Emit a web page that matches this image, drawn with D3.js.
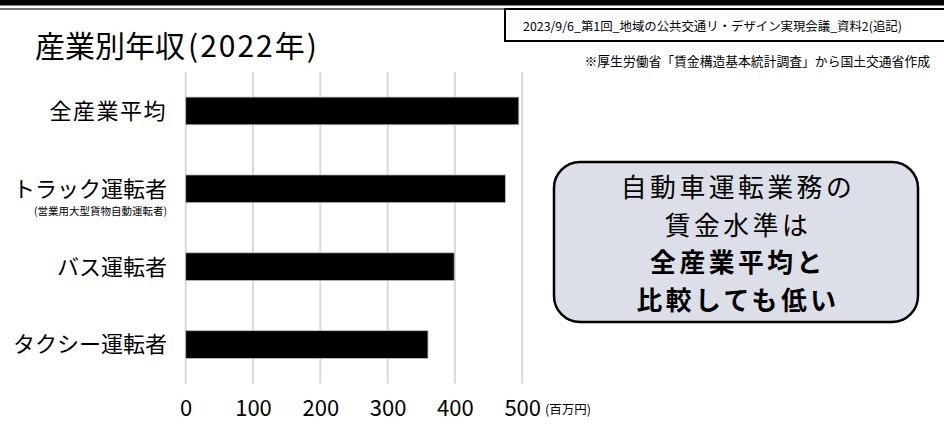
<!DOCTYPE html>
<html>
<head>
<meta charset="utf-8">
<script src="https://cdn.jsdelivr.net/npm/d3@7"></script>
<style>
  body { margin: 0; background: #fff; }
  svg { display: block; font-family: "Noto Sans CJK JP", "Noto Sans", sans-serif; }
</style>
</head>
<body>
<div id="chart"></div>
<script>
(function(){
  // data
  const categories = ["全産業平均", "トラック運転者", "バス運転者", "タクシー運転者"];
  const subLabels = ["", "(営業用大型貨物自動運転者)", "", ""];
  const incomes = [495, 475, 399, 360];
  const xTicks = [0, 100, 200, 300, 400, 500];
  const calloutLines = ["自動車運転業務の", "賃金水準は", "全産業平均と", "比較しても低い"];
  const calloutBold = [false, false, true, true];

  const width = 944;
  const height = 432;

  const svg = d3.select("#chart")
    .append("svg")
    .attr("width", width)
    .attr("height", height);

  // top border lines
  svg.append("rect")
    .attr("x", 0).attr("y", 0)
    .attr("width", width).attr("height", 5.5)
    .attr("fill", "#000");
  svg.append("line")
    .attr("x1", 0).attr("x2", width)
    .attr("y1", 9).attr("y2", 9)
    .attr("stroke", "#777").attr("stroke-width", 2);

  // title
  const title = svg.append("text")
    .attr("x", 35).attr("y", 57)
    .attr("font-size", 30)
    .attr("fill", "#000");
  title.append("tspan").text("産業別年収");
  title.append("tspan").attr("dx", 3).attr("letter-spacing", 2).text("(2022年)");

  // source box, top right
  svg.append("rect")
    .attr("x", 505).attr("y", 9)
    .attr("width", 450).attr("height", 32)
    .attr("fill", "#fff")
    .attr("stroke", "#000").attr("stroke-width", 2);
  svg.append("text")
    .attr("x", 523).attr("y", 31)
    .attr("font-size", 12.4)
    .text("2023/9/6_第1回_地域の公共交通リ・デザイン実現会議_資料2(追記)");
  svg.append("text")
    .attr("x", 930).attr("y", 66)
    .attr("text-anchor", "end")
    .attr("font-size", 12.8)
    .text("※厚生労働省「賃金構造基本統計調査」から国土交通省作成");

  // scales
  const x = d3.scaleLinear()
    .domain([0, 500])
    .range([185.7, 522.2]);

  const y = d3.scaleBand()
    .domain(categories)
    .range([72, 383.5])
    .paddingInner(0.644)
    .paddingOuter(0.322);

  // gridlines
  svg.append("g")
    .attr("class", "grid")
    .selectAll("line")
    .data(xTicks)
    .enter().append("line")
    .attr("x1", d => x(d)).attr("x2", d => x(d))
    .attr("y1", 72).attr("y2", 383.5)
    .attr("stroke", "#d9d9d9")
    .attr("stroke-width", 2);

  // bars
  svg.append("g")
    .selectAll("rect")
    .data(incomes)
    .enter().append("rect")
    .attr("x", x(0))
    .attr("y", (d, i) => y(categories[i]))
    .attr("width", d => x(d) - x(0))
    .attr("height", y.bandwidth())
    .attr("fill", "#000")
    .attr("stroke", "#bfbfbf")
    .attr("stroke-width", 0.8);

  // category labels
  const labels = svg.append("g");
  labels.selectAll("text.cat")
    .data(categories)
    .enter().append("text")
    .attr("class", "cat")
    .attr("x", 167)
    .attr("y", d => y(d) + y.bandwidth() / 2)
    .attr("dy", "0.36em")
    .attr("text-anchor", "end")
    .attr("font-size", 22)
    .attr("letter-spacing", (d, i) => i === 0 ? 1.5 : 0)
    .text(d => d);
  labels.selectAll("text.sub")
    .data(subLabels)
    .enter().append("text")
    .attr("class", "sub")
    .attr("x", 167)
    .attr("y", (d, i) => y(categories[i]) + y.bandwidth() / 2 + 22)
    .attr("dy", "0.36em")
    .attr("text-anchor", "end")
    .attr("font-size", 10.5)
    .text(d => d);

  // x axis
  const xAxis = svg.append("g")
    .attr("transform", "translate(0,383.5)")
    .call(d3.axisBottom(x).tickValues(xTicks).tickSize(0).tickPadding(17).tickFormat(d3.format("d")));
  xAxis.select(".domain").remove();
  xAxis.selectAll("text")
    .attr("font-size", 22)
    .attr("font-family", "\"Noto Sans CJK JP\", sans-serif")
    .attr("fill", "#000");

  svg.append("text")
    .attr("x", 545).attr("y", 414)
    .attr("font-size", 12.5)
    .text("(百万円)");

  // callout
  svg.append("rect")
    .attr("x", 554).attr("y", 162)
    .attr("width", 364).attr("height", 160)
    .attr("rx", 26).attr("ry", 26)
    .attr("fill", "#dcdfe7")
    .attr("stroke", "#000")
    .attr("stroke-width", 2.5);
  svg.append("g")
    .selectAll("text")
    .data(calloutLines)
    .enter().append("text")
    .attr("x", 738)
    .attr("y", (d, i) => 188 + i * 37.5)
    .attr("dy", "0.36em")
    .attr("text-anchor", "middle")
    .attr("font-size", 25.8)
    .attr("letter-spacing", 3.5)
    .attr("font-weight", (d, i) => calloutBold[i] ? "bold" : "normal")
    .text(d => d);
})();
</script>
</body>
</html>
